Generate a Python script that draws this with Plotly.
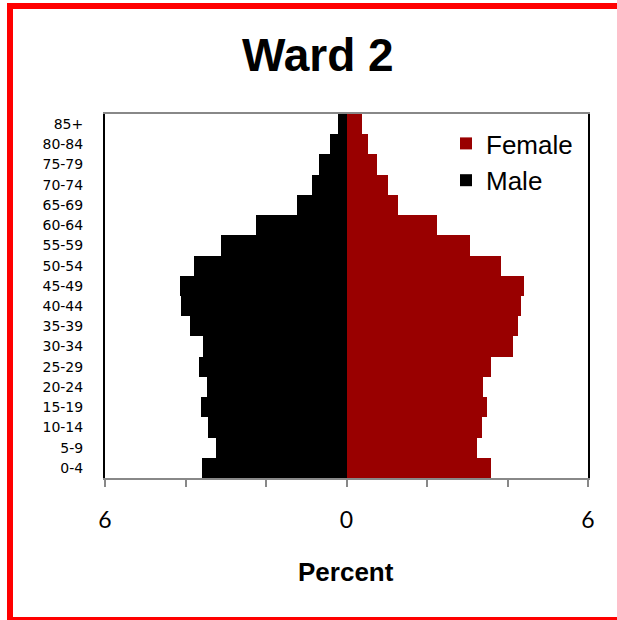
"""
Population pyramid for Ward 2 (percent of population by age group and sex).
"""
import plotly.graph_objects as go

AGE_GROUPS = ["0-4", "5-9", "10-14", "15-19", "20-24", "25-29", "30-34", "35-39",
              "40-44", "45-49", "50-54", "55-59", "60-64", "65-69", "70-74",
              "75-79", "80-84", "85+"]
MALE_PCT = [3.58, 3.24, 3.44, 3.62, 3.47, 3.66, 3.56, 3.90,
            4.12, 4.13, 3.79, 3.12, 2.26, 1.22, 0.85, 0.68, 0.40, 0.22]
FEMALE_PCT = [3.59, 3.23, 3.37, 3.49, 3.40, 3.58, 4.14, 4.25,
              4.34, 4.40, 3.83, 3.06, 2.26, 1.28, 1.02, 0.76, 0.53, 0.39]
X_TICKS = [-6, -4, -2, 0, 2, 4, 6]
X_TICK_TEXT = ["6", "", "", "0", "", "", "6"]

FEMALE_RED = "#990000"
W, H = 617, 620
M_L, M_R, M_T, M_B = 105, 29, 114, 142
PW, PH = W - M_L - M_R, H - M_T - M_B


def px_x(p):
    return (p - M_L) / PW


def px_y(p):
    return (H - M_B - p) / PH


fig = go.Figure()
fig.add_trace(go.Bar(
    y=AGE_GROUPS, x=FEMALE_PCT, orientation="h", name="Female",
    marker=dict(color=FEMALE_RED, line=dict(width=0)),
    hovertemplate="%{y}: %{x:.2f}%<extra>Female</extra>",
))
fig.add_trace(go.Bar(
    y=AGE_GROUPS, x=[-v for v in MALE_PCT], orientation="h", name="Male",
    marker=dict(color="#000000", line=dict(width=0)),
    customdata=MALE_PCT,
    hovertemplate="%{y}: %{customdata:.2f}%<extra>Male</extra>",
))

fig.update_layout(
    width=W, height=H,
    margin=dict(l=M_L, r=M_R, t=M_T, b=M_B),
    paper_bgcolor="white", plot_bgcolor="white",
    barmode="relative", bargap=0,
    font=dict(family="Liberation Sans, Arial", color="black"),
    xaxis=dict(
        range=[-6, 6], tickvals=X_TICKS, ticktext=X_TICK_TEXT,
        ticks="outside", ticklen=7, tickwidth=2, tickcolor="#888888",
        ticklabelstandoff=13,
        tickfont=dict(family="Lato, Open Sans", size=23, color="black"),
        showline=True, linecolor="#888888", linewidth=2, mirror=True,
        showgrid=False, zeroline=False, fixedrange=True,
    ),
    yaxis=dict(
        type="category", ticks="", ticklabelstandoff=17,
        tickfont=dict(family="DejaVu Sans", size=14, color="black"),
        showline=True, linecolor="black", linewidth=2, mirror=True,
        showgrid=False, zeroline=False, fixedrange=True,
    ),
    legend=dict(
        x=px_x(446), y=px_y(120), xanchor="left", yanchor="top",
        font=dict(size=26, color="black"), bgcolor="rgba(0,0,0,0)",
        traceorder="normal", itemclick=False,
    ),
    showlegend=True,
)

# title and axis title
fig.add_annotation(
    text="<b>Ward 2</b>", xref="paper", yref="paper",
    x=px_x(318), y=px_y(55), xanchor="center", yanchor="middle",
    showarrow=False, font=dict(size=46, color="black"),
)
fig.add_annotation(
    text="<b>Percent</b>", xref="paper", yref="paper",
    x=px_x(346), y=px_y(572), xanchor="center", yanchor="middle",
    showarrow=False, font=dict(size=26, color="black"),
)

# red frame around the chart
fig.add_shape(
    type="rect", xref="paper", yref="paper",
    x0=px_x(10), x1=px_x(630), y0=px_y(620), y1=px_y(6),
    line=dict(color="#ff0000", width=6), fillcolor="rgba(0,0,0,0)",
    layer="above",
)

# page body has a default 8px margin; drop it so the figure sits at 0,0
fig.write_html(
    "out.html",
    config={"displayModeBar": False},
    post_script="document.body.style.margin='0';",
)
